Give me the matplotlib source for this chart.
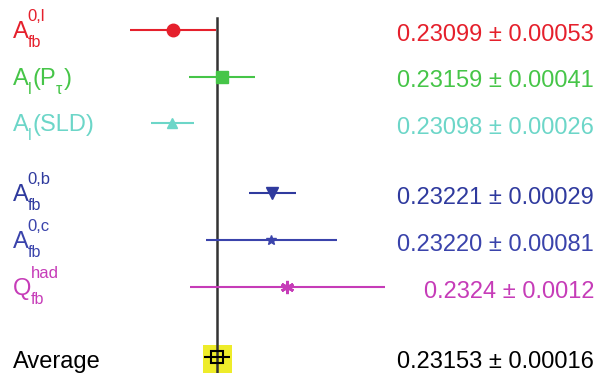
"""
sin^2 theta_eff comparison: lepton vs hadron asymmetries
"""

import matplotlib.pyplot as plt
import matplotlib.transforms as mtransforms

# -------- DATA ----------
label_base = ["A", "A", "A", "A", "A", "Q"]
label_sub = ["fb", "l", "l", "fb", "fb", "fb"]
label_sup = ["0,l", "", "", "0,b", "0,c", "had"]
label_tail = [
    [],
    [("(P", "n"), ("τ", "sub"), (")", "n")],
    [("(SLD)", "n")],
    [],
    [],
    [],
]
values = [0.23099, 0.23159, 0.23098, 0.23221, 0.23220, 0.2324]
errors = [0.00053, 0.00041, 0.00026, 0.00029, 0.00081, 0.0012]
value_text = ["0.23099", "0.23159", "0.23098", "0.23221", "0.23220", "0.2324"]
error_text = ["0.00053", "0.00041", "0.00026", "0.00029", "0.00081", "0.0012"]
rows = [0, 1, 2, 3.5, 4.5, 5.5]

avg_value = 0.23153
avg_error = 0.00016
avg_row = 7

# -------- STYLE ----------
colors = ["#e5202c", "#46c548", "#6cd6c8", "#2f3a9e", "#3a43ab", "#c63cb8"]
markers = ["o", "s", "^", "v", "*", (6, 2, 0)]
msizes = [9, 8.5, 7, 8, 7, 9.5]

plt.rcParams["font.family"] = ["Liberation Sans", "DejaVu Sans"]

fig = plt.figure(figsize=(6.02, 3.73), dpi=100)
ax = fig.add_axes([0, 0, 1, 1])
ax.set_xlim(0.228851, 0.236283)
ax.set_ylim(7.345, -0.642)
ax.axis("off")

# -------- PLOT ----------
# yellow band for the average
ax.fill_betweenx([avg_row - 0.25, 7.345], avg_value - avg_error - 0.00001,
                 avg_value + avg_error + 0.00002, color="#eeec2a", lw=0, zorder=0)

ax.axvline(avg_value, ymin=0, ymax=0.952, color="#333333", lw=1.8, zorder=1)

for i in range(len(values)):
    ax.errorbar(values[i], rows[i], xerr=errors[i], fmt="none",
                ecolor=colors[i], elinewidth=1.5, capsize=0, zorder=2)
    if i == 5:
        ax.plot(values[i], rows[i], marker=markers[i], ms=msizes[i], color=colors[i],
                mew=2, ls="none", zorder=3)
    else:
        ax.plot(values[i], rows[i], marker=markers[i], ms=msizes[i], color=colors[i],
                mec=colors[i], ls="none", zorder=3)

ax.errorbar(avg_value, avg_row, xerr=avg_error, fmt="none", ecolor="black",
            elinewidth=1.5, capsize=0, zorder=2)
ax.plot(avg_value, avg_row, marker="s", ms=8, mfc="none", mec="black",
        mew=1.5, ls="none", zorder=3)

# -------- TEXT ----------
left = mtransforms.blended_transform_factory(ax.transAxes, ax.transData)
renderer = fig.canvas.get_renderer()
x0 = 13  # pixels from the left edge


def put(s, x, row, dy, size, color):
    # dy in pixels, positive = down
    tr = mtransforms.offset_copy(left, fig=fig, x=x, y=-dy, units="dots")
    t = ax.text(0, row, s, transform=tr, fontsize=size, color=color,
                ha="left", va="baseline")
    return t.get_window_extent(renderer).x1 - ax.transAxes.transform((0, 0))[0]


main_dy = 8
for i in range(len(values)):
    c = colors[i]
    x = put(label_base[i], x0, rows[i], main_dy, 17, c)
    x_sub = x - 1
    x_end = x
    if label_sup[i]:
        x_end = max(x_end, put(label_sup[i], x_sub, rows[i], main_dy - 17, 12, c))
    if label_sub[i]:
        x_end = max(x_end, put(label_sub[i], x_sub, rows[i], main_dy + 9, 11.5, c))
    x = x_end + 1
    for s, kind in label_tail[i]:
        if kind == "sub":
            x = put(s, x, rows[i], main_dy + 9, 11.5, c) + 1
        else:
            x = put(s, x, rows[i], main_dy, 17, c)

    ax.text(594 / 602, rows[i] + 0.23, f"{value_text[i]} ± {error_text[i]}",
            transform=left, color=c, fontsize=17, ha="right", va="baseline")

ax.text(x0 / 602, avg_row + 0.23, "Average", transform=left, color="black",
        fontsize=17, ha="left", va="baseline")
ax.text(594 / 602, avg_row + 0.23, f"{avg_value:.5f} ± {avg_error:.5f}",
        transform=left, color="black", fontsize=17, ha="right", va="baseline")

fig.savefig("out.png", dpi=100)
